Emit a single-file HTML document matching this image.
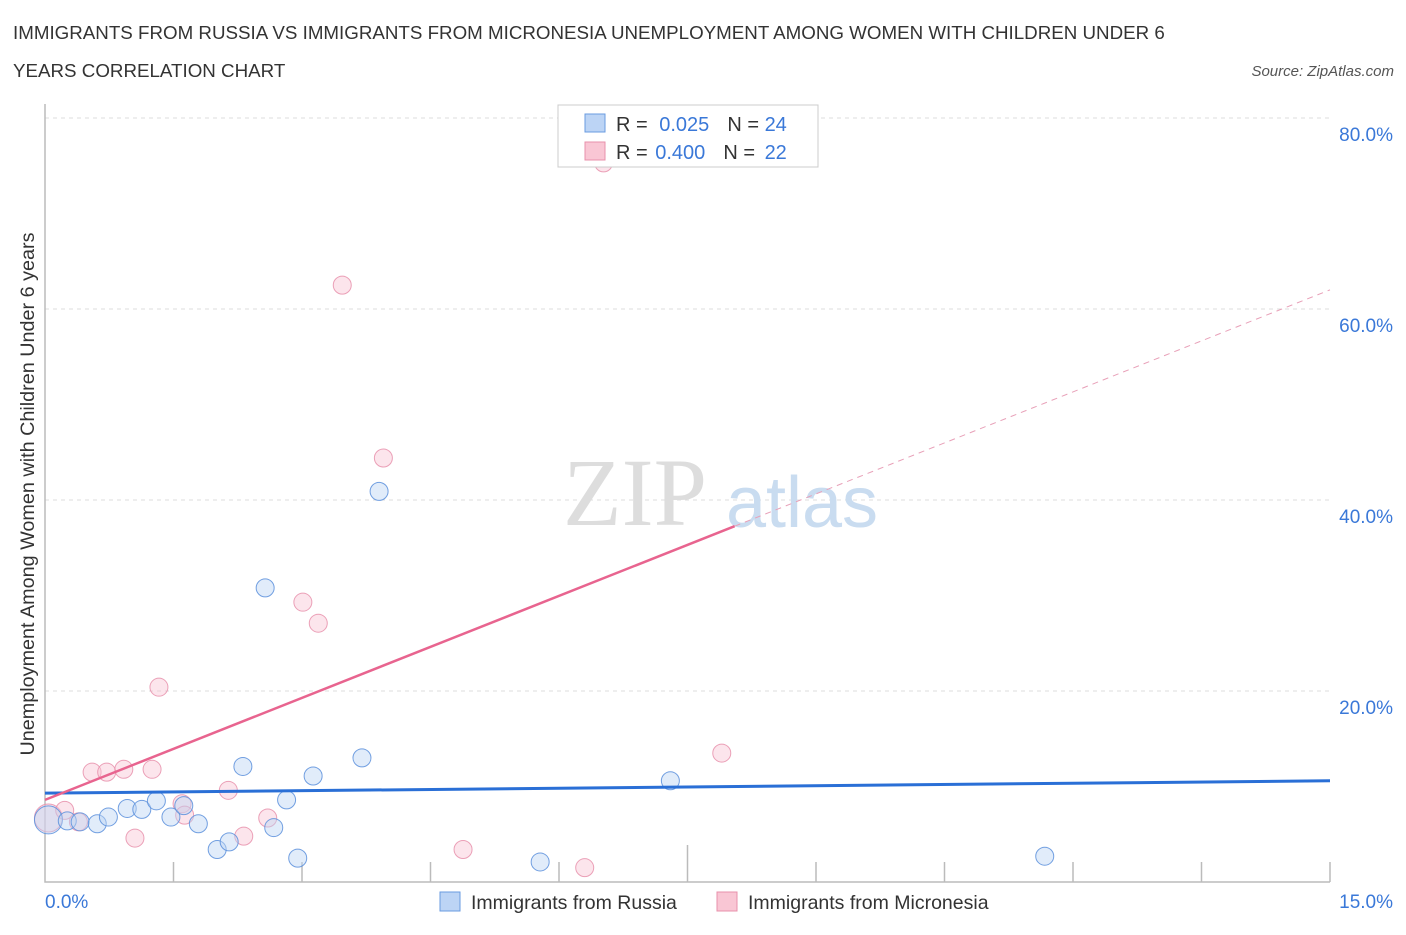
<!DOCTYPE html>
<html><head><meta charset="utf-8"><style>
body{margin:0;background:#fff;font-family:"Liberation Sans",sans-serif;}
</style></head><body>
<svg width="1406" height="930" xmlns="http://www.w3.org/2000/svg" font-family="Liberation Sans, sans-serif">
<text x="13" y="39" font-size="18.75" fill="#333">IMMIGRANTS FROM RUSSIA VS IMMIGRANTS FROM MICRONESIA UNEMPLOYMENT AMONG WOMEN WITH CHILDREN UNDER 6</text>
<text x="13" y="77" font-size="18.75" fill="#333">YEARS CORRELATION CHART</text>
<text x="1394" y="76" font-size="15" fill="#555" font-style="italic" text-anchor="end">Source: ZipAtlas.com</text>
<g id="grid"></g>
<text x="635" y="525" font-size="96" fill="#ddd" font-family="Liberation Serif, serif" text-anchor="middle">ZIP</text>
<text x="802" y="527" font-size="72" fill="#c9dcf0" text-anchor="middle">atlas</text>
<g id="marks"></g>
<text transform="translate(34,494) rotate(-90)" font-size="19.8" fill="#333" text-anchor="middle">Unemployment Among Women with Children Under 6 years</text>
<text x="45" y="908" font-size="19" fill="#3a78d8">0.0%</text>
<text x="1393" y="908" font-size="19" fill="#3a78d8" text-anchor="end">15.0%</text>
<g>
<rect x="558" y="105" width="260" height="62" fill="#fff" stroke="#ccc"/>
<rect x="585" y="114" width="20" height="18" fill="#bcd4f5" stroke="#6a9be0"/>
<rect x="585" y="142" width="20" height="18" fill="#f9c6d4" stroke="#e890ab"/>
<text x="616" y="131" font-size="20" fill="#333">R = <tspan dx="6" fill="#3a78d8">0.025</tspan><tspan dx="18">N = </tspan><tspan fill="#3a78d8">24</tspan></text>
<text x="616" y="159" font-size="20" fill="#333">R = <tspan dx="2" fill="#3a78d8">0.400</tspan><tspan dx="18">N = </tspan><tspan dx="4" fill="#3a78d8">22</tspan></text>
</g>
<g>
<rect x="440" y="892" width="20" height="19" fill="#bcd4f5" stroke="#6a9be0"/>
<text x="471" y="909" font-size="19.5" fill="#333">Immigrants from Russia</text>
<rect x="717" y="892" width="20" height="19" fill="#f9c6d4" stroke="#e890ab"/>
<text x="748" y="909" font-size="19.5" fill="#333">Immigrants from Micronesia</text>
</g>
</svg>
<script>
const yTicks=[20,40,60,80];
const xTicks=[0,1.5,3,4.5,6,7.5,9,10.5,12,13.5,15];
const russiaX=[0.04,0.26,0.41,0.61,0.74,0.96,1.13,1.30,1.47,1.62,1.79,2.01,2.15,2.31,2.57,2.67,2.82,2.95,3.13,3.70,3.90,5.78,7.30,11.67];
const russiaY=[6.5,6.4,6.3,6.1,6.8,7.7,7.6,8.5,6.8,8.0,6.1,3.4,4.2,12.1,30.8,5.7,8.6,2.5,11.1,13.0,40.9,2.1,10.6,2.7];
const micX=[0.04,0.23,0.39,0.55,0.72,0.92,1.05,1.25,1.33,1.60,1.63,2.14,2.32,2.60,3.01,3.19,3.47,3.95,4.88,6.30,6.52,7.90];
const micY=[6.7,7.5,6.3,11.5,11.5,11.8,4.6,11.8,20.4,8.2,7.0,9.6,4.8,6.7,29.3,27.1,62.5,44.4,3.4,1.5,75.3,13.5];
const russiaTrend=[9.3,10.6];
const micTrend=[8.6,62.0];
const NS="http://www.w3.org/2000/svg";
const X=v=>45+v/15*1285, Y=v=>882-v/20*191;
function mk(t,a,p){const e=document.createElementNS(NS,t);for(const k in a)e.setAttribute(k,a[k]);p.appendChild(e);return e;}
const g=document.getElementById('grid'), m=document.getElementById('marks');
yTicks.forEach(t=>{
 const l=mk('line',{x1:45,x2:1330,y1:Y(t),y2:Y(t),stroke:'#ddd','stroke-dasharray':'4,4'},g);
 
 
 const tx=mk('text',{x:1393,y:Y(t)+23,'font-size':19,fill:'#3a78d8','text-anchor':'end'},g);
 tx.textContent=t.toFixed(1)+'%';
 
 
});
const ax=mk('path',{d:'M45,104V882H1330',fill:'none',stroke:'#bbb','stroke-width':1.5},g);


xTicks.forEach((t,i)=>{
 if(i==0)return;
 const l=mk('line',{x1:X(t),x2:X(t),y1:882,y2:i==5?845:862,stroke:'#bbb','stroke-width':1.5},g);
 
 
});
function dots(xs,ys,fill,stroke,name){
 xs.forEach((x,i)=>{
  const c=mk('circle',{cx:X(x),cy:Y(ys[i]),r:i==0?14:9,fill:fill,'fill-opacity':0.45,stroke:stroke,'stroke-width':1,'stroke-opacity':0.85},m);
  
  
 });
}
dots(micX,micY,'#f9c6d4','#e890ab','micronesia-point');
dots(russiaX,russiaY,'#bcd4f5','#5a8fdc','russia-point');
const bl=mk('line',{x1:X(0),y1:Y(russiaTrend[0]),x2:X(15),y2:Y(russiaTrend[1]),stroke:'#2a6fd6','stroke-width':3},m);


const f=x=>micTrend[0]+(micTrend[1]-micTrend[0])*x/15;
const pl=mk('line',{x1:X(0),y1:Y(f(0)),x2:X(8.05),y2:Y(f(8.05)),stroke:'#e8648f','stroke-width':2.5},m);


const pd=mk('line',{x1:X(8.05),y1:Y(f(8.05)),x2:X(15),y2:Y(f(15)),stroke:'#e8a0b8','stroke-width':1,'stroke-dasharray':'6,5'},m);


</script>
</body></html>
